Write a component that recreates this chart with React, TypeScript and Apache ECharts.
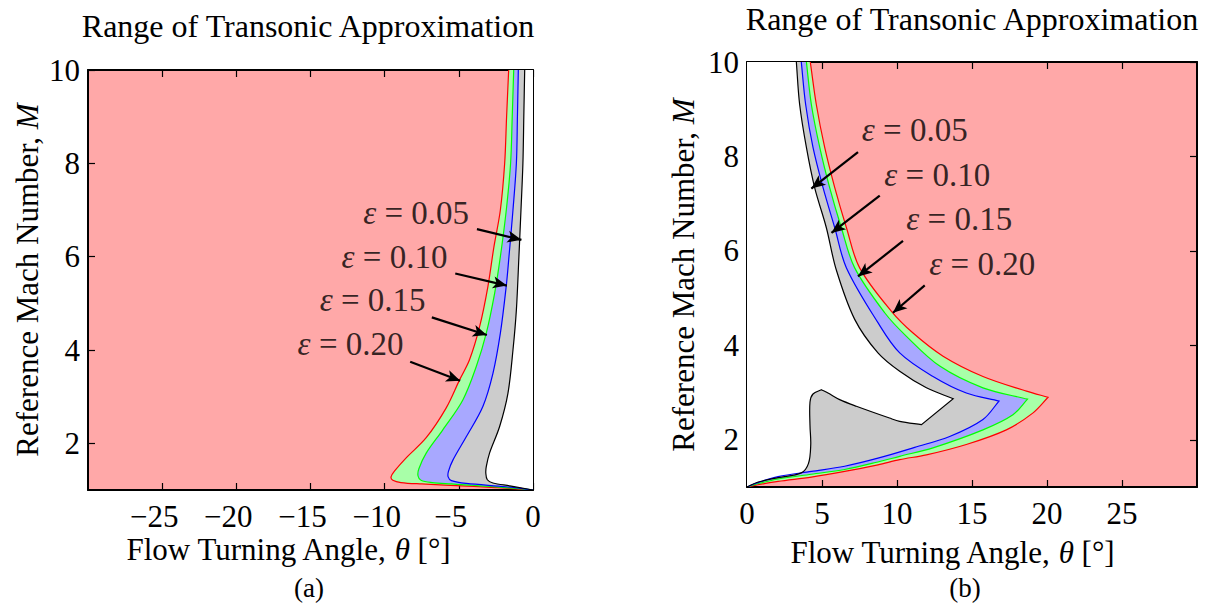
import React, { useEffect, useRef } from 'react';
import * as echarts from 'echarts';

const FONT = '"Liberation Serif", "Times New Roman", Times, serif';

// ---------- tick values ----------
const X_TICKS_A = [-25, -20, -15, -10, -5, 0];
const X_TICKS_B = [0, 5, 10, 15, 20, 25];
const Y_TICKS = [2, 4, 6, 8, 10];

// ---------- panel (a): contour boundaries [theta, M] ----------
const A_RED = [[-1.64,10],[-1.78,9],[-1.91,8],[-2.2,7],[-2.64,6.2],[-3.04,5.36],[-3.6,4.5],[-4.28,3.79],[-4.95,3.36],[-5.85,2.76],[-7.2,2.12],[-8.55,1.69],[-9.3,1.42],[-9.57,1.28],[-9.45,1.21],[-8.9,1.16],[-7.5,1.13],[-4.8,1.09],[-2.4,1.05],[0,1]];
const A_GREEN = [[-1.3,10],[-1.4,9],[-1.51,8],[-1.8,7],[-2.2,6],[-2.59,5.21],[-3.15,4.36],[-3.83,3.64],[-4.73,2.93],[-6.08,2.29],[-7.2,1.79],[-7.7,1.45],[-7.75,1.3],[-7.55,1.21],[-6.8,1.16],[-5.5,1.13],[-3.6,1.09],[-1.35,1.04],[0,1]];
const A_BLUE = [[-0.99,10],[-1.05,9],[-1.12,8],[-1.35,7],[-1.62,6],[-1.8,5.38],[-2.2,4.36],[-2.7,3.5],[-3.38,2.79],[-4.5,2.14],[-5.4,1.64],[-5.7,1.4],[-5.72,1.28],[-5.5,1.2],[-4.5,1.14],[-1.8,1.07],[0,1]];
const A_BLACK = [[-0.56,10],[-0.62,9],[-0.68,8],[-0.81,7],[-0.95,6],[-1.12,4.86],[-1.35,4],[-1.69,3.07],[-2.25,2.36],[-2.93,1.79],[-3.15,1.5],[-3.18,1.36],[-3.08,1.22],[-2.7,1.15],[-1.57,1.09],[0,1]];

// ---------- panel (b): contour boundaries [theta, M] ----------
const B_RED = [[4.22,10],[4.62,9.1],[5.18,8.19],[5.85,7.34],[6.63,6.49],[7.51,5.64],[9.63,4.72],[11.07,4.26],[13.07,3.77],[15.73,3.34],[18.63,3.03],[20.07,2.9],[19.07,2.57],[17.29,2.21],[14.62,1.9],[11.96,1.68],[10.18,1.58],[8.73,1.47],[6.51,1.33],[4.29,1.21],[2.07,1.12],[0.6,1.04],[0,1]];
const B_GREEN = [[3.96,10],[4.29,9.1],[4.85,8.19],[5.51,7.34],[6.29,6.49],[7.18,5.64],[9.18,4.69],[10.63,4.19],[12.85,3.56],[15.73,3.1],[18.7,2.86],[17.73,2.53],[15.73,2.21],[12.4,1.83],[10.18,1.65],[8.73,1.53],[6.51,1.37],[4.29,1.27],[2.07,1.17],[0.6,1.06],[0,1]];
const B_BLUE = [[3.62,10],[3.91,9.1],[4.4,8.19],[5.07,7.34],[5.85,6.49],[6.63,5.64],[8.73,4.48],[10.18,3.84],[12.4,3.34],[14.62,2.99],[16.8,2.82],[15.73,2.43],[13.51,2.07],[11.18,1.84],[8.73,1.61],[6.51,1.44],[4.29,1.33],[2.07,1.22],[0.6,1.08],[0,1]];
const B_BLACK = [[3.29,10],[3.51,9.1],[3.96,8.19],[4.51,7.34],[5.29,6.49],[5.95,5.6],[7.18,4.55],[8.73,3.84],[10.18,3.45],[11.96,3.1],[13.75,2.87],[11.63,2.32],[10.18,2.39],[9.5,2.46],[7.29,2.71],[6.18,2.85],[5.4,2.99],[4.96,3.06],[4.4,2.97],[4.2,2.8],[4.2,2.3],[4.25,1.9],[4.1,1.5],[3.62,1.3],[2.07,1.2],[0.7,1.1],[0,1]];
// sharp vertices of the contours (tips and notch corners)
const CORNERS = [[20.07,2.9],[18.7,2.86],[16.8,2.82],[13.75,2.87],[11.63,2.32],[4.96,3.06]];

// ---------- annotations ----------
const EPS_VALUES = ['0.05', '0.10', '0.15', '0.20'];
const A_LABEL_POS = [[-7.88,6.93],[-9.34,6.0],[-10.81,5.07],[-12.3,4.13]];
const A_ARROWS = [[[-3.78,6.59],[-0.78,6.36]],[[-5.24,5.64],[-1.76,5.38]],[[-6.82,4.7],[-3.11,4.32]],[[-8.28,3.75],[-4.91,3.34]]];
const B_LABEL_POS = [[11.18,8.56],[12.68,7.61],[14.15,6.68],[15.68,5.73]];
const B_ARROWS = [[[7.4,8.09],[4.29,7.32]],[[8.85,7.17],[5.63,6.38]],[[10.4,6.21],[7.4,5.46]],[[11.85,5.27],[9.73,4.69]]];

const PINK = '#FFA8A8';
const GREEN_FILL = '#A8FFA8';
const BLUE_FILL = '#A8A8FF';
const GRAY_FILL = '#CCCCCC';

const isCorner = (p: number[]) => CORNERS.some((c) => c[0] === p[0] && c[1] === p[1]);

function norm(dx: number, dy: number) {
  const l = Math.hypot(dx, dy) || 1;
  return [dx / l, dy / l];
}

// smooth path (cubic Bezier through the pixel points, broken at corners)
function curvePath(data: number[][], api: any): string {
  const px = data.map((p) => api.coord(p));
  const corner = data.map(isCorner);
  const n = px.length;
  let d = `M${px[0][0]},${px[0][1]}`;
  for (let i = 0; i < n - 1; i++) {
    const p0 = px[i], p1 = px[i + 1];
    const L = Math.hypot(p1[0] - p0[0], p1[1] - p0[1]);
    const tOut = i === 0 || corner[i]
      ? norm(p1[0] - p0[0], p1[1] - p0[1])
      : norm(p1[0] - px[i - 1][0], p1[1] - px[i - 1][1]);
    const tIn = i + 1 === n - 1 || corner[i + 1]
      ? norm(p1[0] - p0[0], p1[1] - p0[1])
      : norm(px[i + 2][0] - p0[0], px[i + 2][1] - p0[1]);
    const c1 = [p0[0] + (tOut[0] * L) / 3, p0[1] + (tOut[1] * L) / 3];
    const c2 = [p1[0] - (tIn[0] * L) / 3, p1[1] - (tIn[1] * L) / 3];
    d += ` C${c1[0]},${c1[1]} ${c2[0]},${c2[1]} ${p1[0]},${p1[1]}`;
  }
  return d;
}

function fillSeries(pts: number[][], closing: number[][], color: string, xi: number, yi: number) {
  return {
    type: 'custom', xAxisIndex: xi, yAxisIndex: yi, clip: true, silent: true,
    data: [[pts[0][0], pts[0][1]]],
    z: 1,
    renderItem: (_p: any, api: any) => {
      let d = curvePath(pts, api);
      closing.forEach((c) => {
        const q = api.coord(c);
        d += ` L${q[0]},${q[1]}`;
      });
      d += ' Z';
      return { type: 'path', shape: { pathData: d }, style: { fill: color, stroke: null } };
    },
  };
}

function lineSeries(pts: number[][], color: string, xi: number, yi: number) {
  return {
    type: 'custom', xAxisIndex: xi, yAxisIndex: yi, clip: true, silent: true,
    data: [[pts[0][0], pts[0][1]]],
    z: 2,
    renderItem: (_p: any, api: any) => ({
      type: 'path',
      shape: { pathData: curvePath(pts, api) },
      style: { stroke: color, lineWidth: 1.2, fill: null },
    }),
  };
}

function labelSeries(pos: number[][], arrows: number[][][], xi: number, yi: number) {
  return {
    type: 'scatter', xAxisIndex: xi, yAxisIndex: yi, silent: true, z: 5,
    symbolSize: 1,
    itemStyle: { color: 'rgba(0,0,0,0)' },
    data: pos.map((p, i) => ({ value: p, name: EPS_VALUES[i] })),
    label: {
      show: true, position: 'inside', color: '#000',
      fontFamily: FONT, fontSize: 33,
      formatter: (p: any) => '{i|ε} = ' + p.name,
      rich: { i: { fontFamily: FONT, fontSize: 33, fontStyle: 'italic', color: '#000' } },
    },
    markLine: {
      silent: true, symbol: ['none', 'arrow'], symbolSize: [9, 14],
      label: { show: false },
      lineStyle: { color: '#000', width: 2.2, type: 'solid' },
      emphasis: { disabled: true },
      data: arrows.map((a) => [{ coord: a[0] }, { coord: a[1] }]),
    },
  };
}

const axisLineStyle = { show: true, onZero: false, lineStyle: { color: '#000', width: 2 } };
const tickStyle = { show: true, inside: true, length: 7, lineStyle: { color: '#000', width: 1.2 } };
const labelStyle = { color: '#000', fontFamily: FONT, fontSize: 31 };
const fmt = (v: number) => (v < 0 ? '{n|\u2212' + -v + '}' : String(v));

function xAxes(grid: number, min: number, max: number, ticks: number[]) {
  return [
    { gridIndex: grid, type: 'value', position: 'bottom', min, max, interval: 5,
      axisLine: axisLineStyle, axisTick: { ...tickStyle, customValues: ticks },
      axisLabel: { ...labelStyle, margin: 11, customValues: ticks, formatter: fmt,
        rich: { n: { fontFamily: FONT, fontSize: 31, color: '#000', padding: [0, 16, 0, 0] } } },
      splitLine: { show: false } },
    { gridIndex: grid, type: 'value', position: 'top', min, max, interval: 5,
      axisLine: axisLineStyle, axisTick: { ...tickStyle, customValues: ticks },
      axisLabel: { show: false }, splitLine: { show: false } },
  ];
}
function yAxes(grid: number) {
  return [
    { gridIndex: grid, type: 'value', position: 'left', min: 1, max: 10,
      axisLine: axisLineStyle, axisTick: { ...tickStyle, customValues: Y_TICKS },
      axisLabel: { ...labelStyle, margin: 8, customValues: Y_TICKS },
      splitLine: { show: false } },
    { gridIndex: grid, type: 'value', position: 'right', min: 1, max: 10,
      axisLine: axisLineStyle, axisTick: { ...tickStyle, customValues: Y_TICKS },
      axisLabel: { show: false }, splitLine: { show: false } },
  ];
}

function txt(text: string, x: number, y: number, size: number, rotation = 0) {
  return {
    type: 'text', x, y, rotation, silent: true,
    style: {
      text, fill: '#000', fontFamily: FONT, fontSize: size,
      align: 'center', verticalAlign: 'middle', textAlign: 'center', textVerticalAlign: 'middle',
      rich: { i: { fontFamily: FONT, fontSize: size, fontStyle: 'italic', fill: '#000', color: '#000' } },
    },
  };
}

export default function App() {
  const ref = useRef<HTMLDivElement>(null);
  useEffect(() => {
    if (!ref.current) return;
    const chart = echarts.init(ref.current, undefined, { renderer: 'svg' });
    const close = [[0, 1], [0, 10]];
    chart.setOption({
      animation: false,
      backgroundColor: '#fff',
      grid: [
        { left: 88, top: 70, width: 445, height: 420, show: true, backgroundColor: PINK, borderWidth: 0 },
        { left: 747, top: 62, width: 450, height: 425, show: true, backgroundColor: PINK, borderWidth: 0 },
      ],
      xAxis: [...xAxes(0, -30, 0, X_TICKS_A), ...xAxes(1, 0, 30, X_TICKS_B)],
      yAxis: [...yAxes(0), ...yAxes(1)],
      series: [
        fillSeries(A_RED, close, GREEN_FILL, 0, 0),
        fillSeries(A_GREEN, close, BLUE_FILL, 0, 0),
        fillSeries(A_BLUE, close, GRAY_FILL, 0, 0),
        fillSeries(A_BLACK, close, '#FFFFFF', 0, 0),
        lineSeries(A_RED, '#FF0000', 0, 0),
        lineSeries(A_GREEN, '#00FF00', 0, 0),
        lineSeries(A_BLUE, '#0000FF', 0, 0),
        lineSeries(A_BLACK, '#000000', 0, 0),
        labelSeries(A_LABEL_POS, A_ARROWS, 0, 0),
        fillSeries(B_RED, close, GREEN_FILL, 2, 2),
        fillSeries(B_GREEN, close, BLUE_FILL, 2, 2),
        fillSeries(B_BLUE, close, GRAY_FILL, 2, 2),
        fillSeries(B_BLACK, close, '#FFFFFF', 2, 2),
        lineSeries(B_RED, '#FF0000', 2, 2),
        lineSeries(B_GREEN, '#00FF00', 2, 2),
        lineSeries(B_BLUE, '#0000FF', 2, 2),
        lineSeries(B_BLACK, '#000000', 2, 2),
        labelSeries(B_LABEL_POS, B_ARROWS, 2, 2),
      ],
      graphic: [
        txt('Range of Transonic Approximation', 308, 26, 32),
        txt('Range of Transonic Approximation', 972, 19, 32),
        txt('Reference Mach Number, {i|M}', 27, 280, 31, Math.PI / 2),
        txt('Reference Mach Number, {i|M}', 683, 275, 31, Math.PI / 2),
        txt('Flow Turning Angle, {i|θ} [°]', 288, 549, 31),
        txt('Flow Turning Angle, {i|θ} [°]', 952, 552, 31),
        txt('(a)', 309, 588, 27),
        txt('(b)', 965, 588, 27),
      ],
    });
    return () => chart.dispose();
  }, []);
  return <div ref={ref} style={{ position: 'fixed', left: 0, top: 0, width: 1207, height: 607 }} />;
}
